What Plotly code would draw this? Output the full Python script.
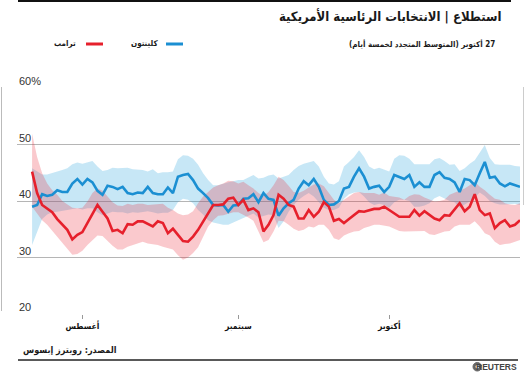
import pandas as pd
import plotly.graph_objects as go

start_date = "2016-07-22"
n_days = 98

clinton = [39.0, 39.3, 41.2, 40.9, 41.1, 41.9, 41.6, 41.6, 43.1, 43.9,
           42.9, 43.9, 43.3, 41.8, 41.1, 42.7, 42.5, 42.1, 42.5, 41.4,
           41.2, 41.5, 41.4, 42.5, 41.4, 41.2, 41.2, 42.4, 41.4, 44.3,
           44.6, 44.8, 43.7, 42.2, 41.4, 40.5, 39.3, 39.2, 39.3, 38.1,
           39.2, 39.3, 40.4, 40.5, 41.2, 39.8, 41.4, 40.4, 40.2, 37.4,
           38.7, 39.6, 40.2, 42.2, 43.5, 42.8, 43.9, 42.5, 40.2, 39.3,
           39.4, 40.0, 42.2, 42.5, 44.3, 45.8, 44.3, 42.2, 42.5, 42.7,
           41.6, 42.5, 44.6, 44.3, 43.9, 44.6, 42.5, 43.3, 42.5, 42.5,
           44.6, 45.1, 44.1, 43.9, 43.3, 41.6, 43.9, 43.7, 42.8, 44.9,
           46.9, 44.1, 44.3, 43.1, 42.6, 43.1, 42.8, 42.5]

trump = [45.2, 41.4, 39.3, 38.7, 38.0, 36.8, 35.8, 34.9, 33.2, 34.0,
         34.5, 36.1, 37.8, 39.3, 38.1, 36.9, 34.7, 34.9, 34.3, 35.9,
         35.8, 36.4, 36.4, 35.9, 35.5, 36.4, 36.1, 34.3, 35.1, 34.0,
         32.9, 32.8, 33.7, 34.9, 36.4, 38.0, 39.3, 39.3, 39.4, 40.4,
         40.6, 39.3, 40.2, 38.4, 38.7, 38.0, 34.6, 35.8, 37.5, 41.1,
         40.4, 39.3, 39.0, 36.9, 36.9, 38.4, 37.2, 38.1, 39.8, 39.0,
         36.5, 36.8, 36.1, 36.8, 37.5, 38.2, 38.1, 38.4, 38.6, 38.6,
         39.0, 38.4, 37.8, 37.2, 37.2, 37.2, 38.4, 37.4, 38.2, 37.5,
         36.9, 36.6, 37.5, 37.4, 38.6, 39.6, 38.2, 39.0, 41.2, 38.4,
         37.5, 37.8, 35.2, 36.1, 36.6, 35.5, 35.8, 36.6]

clinton_hi = [45.8, 45.3, 44.7, 44.7, 44.9, 45.2, 45.5, 45.8, 46.5, 46.8,
              46.6, 46.8, 47.1, 46.1, 45.3, 45.5, 45.9, 45.8, 45.9, 45.9,
              45.6, 45.5, 45.5, 45.2, 45.6, 44.9, 45.1, 45.1, 45.2, 47.4,
              48.1, 48.0, 47.5, 46.4, 44.9, 43.7, 42.8, 42.8, 43.1, 43.3,
              43.5, 43.7, 43.7, 44.1, 44.6, 44.0, 44.1, 44.5, 44.7, 44.0,
              44.3, 44.6, 45.5, 46.2, 46.6, 46.8, 47.1, 46.1, 44.3, 43.1,
              42.9, 43.5, 46.1, 46.9, 47.8, 49.0, 47.8, 46.1, 45.6, 45.9,
              45.5, 45.2, 47.5, 48.1, 48.0, 47.5, 46.5, 46.5, 46.6, 46.5,
              47.4, 47.6, 47.1, 46.4, 46.5, 45.3, 45.8, 46.6, 47.2, 48.6,
              49.9, 47.6, 46.5, 46.4, 46.4, 46.4, 46.2, 46.1]

clinton_lo = [32.2, 34.6, 36.8, 37.6, 38.0, 38.1, 38.2, 38.4, 38.6, 38.7,
              38.5, 38.7, 38.7, 38.0, 37.5, 37.8, 38.1, 38.0, 38.0, 37.8,
              38.0, 37.9, 38.0, 38.2, 38.0, 37.8, 37.9, 37.9, 38.4, 39.8,
              40.4, 40.2, 39.6, 38.4, 37.6, 36.6, 36.2, 36.0, 35.8, 35.8,
              36.2, 36.6, 36.9, 37.4, 37.8, 37.1, 37.4, 37.6, 37.5, 35.2,
              36.4, 38.1, 39.3, 40.2, 40.9, 41.4, 40.8, 39.8, 38.8, 38.4,
              38.4, 38.8, 40.4, 41.2, 41.5, 41.6, 40.8, 39.8, 39.3, 39.5,
              39.3, 38.8, 39.8, 40.2, 40.2, 40.0, 39.0, 39.0, 39.2, 39.6,
              40.5, 40.9, 40.5, 40.0, 39.8, 38.8, 39.4, 39.9, 40.6, 41.5,
              40.9, 40.0, 39.6, 39.4, 39.4, 39.5, 39.5, 39.3]

trump_hi = [51.9, 47.8, 44.9, 43.1, 41.9, 41.1, 40.0, 39.4, 38.8, 38.7,
            38.8, 39.9, 41.4, 42.2, 41.8, 40.8, 39.8, 39.2, 39.1, 39.5,
            39.3, 39.5, 39.5, 39.3, 39.4, 39.5, 39.5, 38.8, 38.4, 37.8,
            37.5, 37.6, 38.2, 39.6, 40.8, 41.6, 42.4, 42.8, 43.1, 43.6,
            43.5, 43.1, 43.4, 42.8, 42.2, 41.4, 40.9, 41.6, 42.8, 44.3,
            43.7, 42.7, 41.6, 41.4, 41.8, 42.4, 42.9, 43.1, 42.6, 41.4,
            40.2, 39.6, 40.2, 40.9, 41.4, 41.6, 41.4, 41.4, 41.4, 41.1,
            41.5, 40.9, 40.8, 40.6, 40.2, 40.9, 41.2, 41.1, 40.6, 40.2,
            39.9, 40.0, 40.2, 41.1, 41.5, 41.9, 42.2, 42.8, 43.4, 42.5,
            41.9, 41.1, 40.4, 40.2, 39.6, 39.4, 39.3, 39.6]

trump_lo = [39.0, 37.8, 36.6, 35.8, 34.7, 33.7, 32.5, 31.4, 30.5, 30.6,
            31.2, 32.2, 33.1, 33.9, 33.8, 32.9, 32.1, 31.4, 31.4, 31.9,
            32.2, 32.4, 32.8, 32.5, 32.4, 32.2, 31.9, 31.6, 31.4, 30.4,
            29.6, 30.0, 30.8, 31.8, 33.7, 35.5, 36.6, 37.4, 37.5, 37.8,
            38.0, 38.0, 37.6, 37.1, 36.5, 34.6, 32.7, 33.1, 34.6, 36.5,
            36.4, 35.8, 35.1, 34.7, 34.9, 35.5, 35.3, 35.8, 35.8, 34.9,
            33.4, 33.1, 33.9, 34.3, 34.6, 34.7, 35.2, 35.5, 35.8, 35.8,
            35.6, 35.5, 35.1, 34.7, 34.6, 34.6, 34.6, 34.7, 34.7, 34.1,
            34.0, 34.3, 34.6, 34.7, 35.5, 35.8, 35.8, 35.8, 36.4, 35.5,
            34.3, 33.9, 32.8, 32.2, 32.4, 32.5, 32.8, 33.1]

y_ticks = [20, 30, 40, 50, 60]
y_tick_labels = ["20", "30", "40", "50", "60%"]
x_tick_dates = ["2016-08-01", "2016-09-01", "2016-10-01"]
x_tick_labels = ["أغسطس", "سبتمبر", "أكتوبر"]
x_range = ["2016-07-19", "2016-10-27"]

title_text = "استطلاع | الانتخابات الرئاسية الأمريكية"
subtitle_text = "27 أكتوبر (المتوسط المتجدد لخمسة أيام)"
clinton_name = "كلينتون"
trump_name = "ترامب"
source_text = "المصدر: رويترز إبسوس"

dates = pd.date_range(start_date, periods=n_days, freq="D")

BLUE = "#1b8fd2"
RED = "#e6202c"
BLUE_BAND = "rgba(30,160,220,0.25)"
RED_BAND = "rgba(235,40,55,0.25)"
AR_FONT = "DejaVu Sans Condensed, DejaVu Sans"
RLE, PDF = "\u202b", "\u202c"

W, H = 527, 378
ML, MR, MT, MB = 17, 7, 88, 64
PW = W - ML - MR
PH = H - MT - MB


def X(px):
    return (px - ML) / PW


def Y(py):
    return (H - MB - py) / PH


fig = go.Figure()
fig.add_trace(go.Scatter(x=dates, y=clinton_hi, mode="lines", line=dict(width=0),
                         hoverinfo="skip", showlegend=False))
fig.add_trace(go.Scatter(x=dates, y=clinton_lo, mode="lines", line=dict(width=0),
                         fill="tonexty", fillcolor=BLUE_BAND, hoverinfo="skip", showlegend=False))
fig.add_trace(go.Scatter(x=dates, y=trump_hi, mode="lines", line=dict(width=0),
                         hoverinfo="skip", showlegend=False))
fig.add_trace(go.Scatter(x=dates, y=trump_lo, mode="lines", line=dict(width=0),
                         fill="tonexty", fillcolor=RED_BAND, hoverinfo="skip", showlegend=False))
fig.add_trace(go.Scatter(x=dates, y=clinton, mode="lines", name=clinton_name,
                         line=dict(color=BLUE, width=2.6), showlegend=False))
fig.add_trace(go.Scatter(x=dates, y=trump, mode="lines", name=trump_name,
                         line=dict(color=RED, width=2.6), showlegend=False))

annotations = []
for v, t in zip(y_ticks, y_tick_labels):
    annotations.append(dict(x=0, xref="paper", y=v, yref="y", text=t, showarrow=False,
                            xanchor="left", yanchor="bottom", yshift=-1,
                            font=dict(family="Liberation Sans", size=11, color="#333333")))

annotations += [
    dict(x=X(503), y=Y(16), xref="paper", yref="paper", showarrow=False,
         text="<b>" + RLE + title_text + PDF + "</b>", xanchor="right", yanchor="middle",
         font=dict(family=AR_FONT, size=13, color="#1a1a1a")),
    dict(x=X(497), y=Y(44), xref="paper", yref="paper", showarrow=False,
         text="<b>" + RLE + subtitle_text + PDF + "</b>", xanchor="right", yanchor="middle",
         font=dict(family=AR_FONT, size=8, color="#1a1a1a")),
    dict(x=X(160), y=Y(44), xref="paper", yref="paper", showarrow=False,
         text="<b>" + clinton_name + "</b>", xanchor="right", yanchor="middle",
         font=dict(family=AR_FONT, size=8, color="#1a1a1a")),
    dict(x=X(78), y=Y(44), xref="paper", yref="paper", showarrow=False,
         text="<b>" + trump_name + "</b>", xanchor="right", yanchor="middle",
         font=dict(family=AR_FONT, size=8, color="#1a1a1a")),
    dict(x=X(21), y=Y(350), xref="paper", yref="paper", showarrow=False,
         text="<b>" + RLE + source_text + PDF + "</b>", xanchor="left", yanchor="middle",
         font=dict(family=AR_FONT, size=9, color="#1a1a1a")),
    dict(x=X(519), y=Y(367), xref="paper", yref="paper", showarrow=False,
         text="<b>REUTERS</b>", xanchor="right", yanchor="middle",
         font=dict(family="Liberation Sans", size=8.5, color="#444444")),
]

shapes = [
    dict(type="line", xref="paper", yref="paper", x0=X(18), x1=X(511), y0=Y(1), y1=Y(1),
         line=dict(color="#111111", width=2)),
    dict(type="line", xref="paper", yref="paper", x0=X(18), x1=X(518), y0=Y(360), y1=Y(360),
         line=dict(color="#222222", width=1.5)),
    dict(type="line", xref="paper", yref="paper", x0=X(1.5), x1=X(1.5), y0=Y(87), y1=Y(311),
         line=dict(color="#bbbbbb", width=1)),
    dict(type="line", xref="paper", yref="paper", x0=X(523.5), x1=X(523.5), y0=Y(87), y1=Y(205),
         line=dict(color="#cccccc", width=1)),
    dict(type="line", xref="paper", yref="paper", x0=X(166), x1=X(183), y0=Y(44), y1=Y(44),
         line=dict(color=BLUE, width=3)),
    dict(type="line", xref="paper", yref="paper", x0=X(86), x1=X(103), y0=Y(44), y1=Y(44),
         line=dict(color=RED, width=3)),
    dict(type="circle", xref="paper", yref="paper", x0=X(473), x1=X(481.5), y0=Y(371), y1=Y(362.5),
         fillcolor="#666666", line=dict(color="#666666", width=1)),
    dict(type="circle", xref="paper", yref="paper", x0=X(475.5), x1=X(479), y0=Y(368.5), y1=Y(365),
         fillcolor="#ffffff", line=dict(color="#ffffff", width=0)),
]

fig.update_layout(
    width=W, height=H, autosize=False,
    margin=dict(l=ML, r=MR, t=MT, b=MB, pad=0),
    paper_bgcolor="white", plot_bgcolor="white",
    showlegend=False,
    annotations=annotations,
    shapes=shapes,
    xaxis=dict(type="date", range=x_range, tickvals=x_tick_dates,
               ticktext=["<b>" + t + "</b>" for t in x_tick_labels],
               ticks="outside", ticklen=4, tickcolor="#999999", tickwidth=1,
               showgrid=False, zeroline=False, showline=False,
               tickfont=dict(family=AR_FONT, size=8.5, color="#111111"), fixedrange=True),
    yaxis=dict(range=[20, 60], tickvals=y_ticks, showticklabels=False, ticks="",
               showgrid=True, gridcolor="#b5b5b5", gridwidth=1, zeroline=False,
               showline=False, fixedrange=True),
)

fig.write_html(
    "out.html",
    config={"displayModeBar": False},
    post_script="document.body.style.margin='0px';document.body.style.overflow='hidden';",
)
